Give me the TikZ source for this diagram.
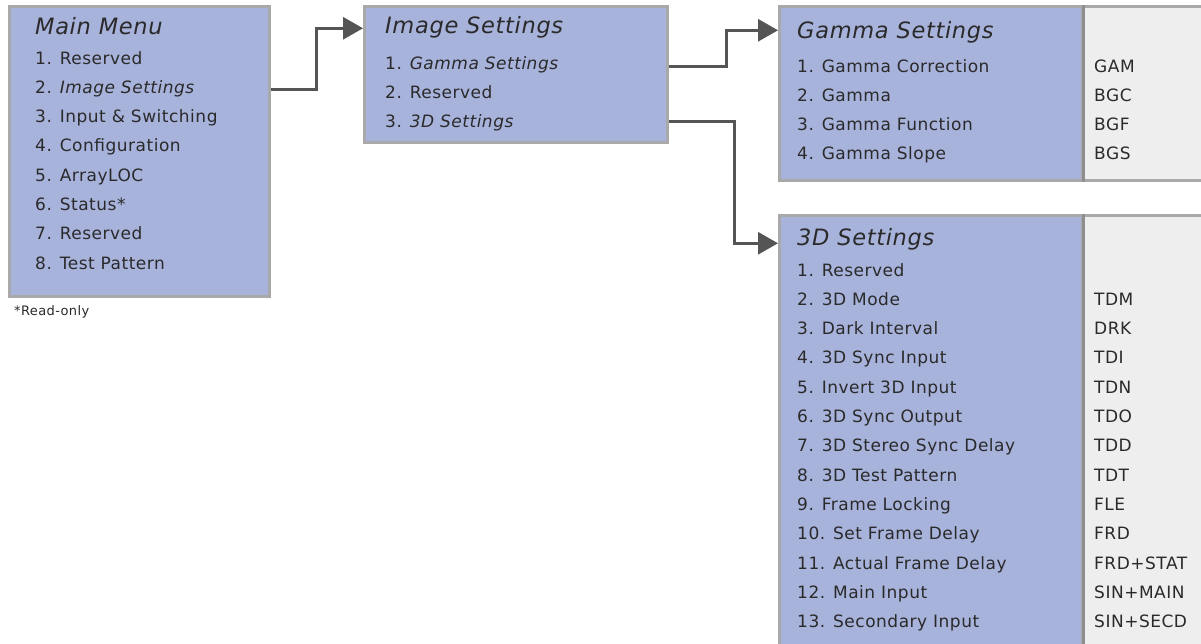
\documentclass[tikz,border=0pt]{standalone}
\usepackage{fontspec}
\setmainfont{DejaVu Sans}[LetterSpace=3]
\usetikzlibrary{arrows.meta}
\definecolor{menublue}{HTML}{A8B3DC}
\definecolor{menuborder}{HTML}{A9A9A9}
\definecolor{codegray}{HTML}{EEEEEE}
\definecolor{divgray}{HTML}{8E8E8E}
\definecolor{arrowgray}{HTML}{555555}
\definecolor{txt}{HTML}{2A2A2A}
\tikzset{
  menubox/.style={draw=menuborder, line width=2.5pt, fill=menublue, anchor=north west, inner sep=0pt},
  codebox/.style={draw=menuborder, line width=2.5pt, fill=codegray, anchor=north west, inner sep=0pt},
  item/.style={anchor=base west, inner sep=0pt, text=txt, font=\fontsize{17}{20}\selectfont},
  ttl/.style={anchor=base west, inner sep=0pt, text=txt, font=\fontsize{22.5}{26}\selectfont\itshape},
  code/.style={anchor=base west, inner sep=0pt, text=txt, font=\fontsize{17}{20}\selectfont},
  note/.style={anchor=base west, inner sep=0pt, text=txt, font=\fontsize{13}{15}\selectfont},
  divider/.style={draw=divgray, line width=3pt},
  conn/.style={draw=arrowgray, line width=3pt, -{Triangle[length=20pt,width=22pt]}}
}
\begin{document}
\begin{tikzpicture}[x=1pt,y=-1pt]
\clip (0,0) rectangle (1201,643);
\fill[white] (0,0) rectangle (1201,643);
% Main menu
\node[menubox, minimum width=260pt, minimum height=290pt] (main) at (8,5) {};
\node[ttl] (mmT) at (35,34.3) {Main Menu};
\node[item] (mm1) at (35,64) {1. Reserved};
\node[item] (mm2) at (35,93.3) {2. \textit{Image Settings}};
\node[item] (mm3) at (35,122.6) {3. Input \& Switching};
\node[item] (mm4) at (35,151.9) {4. Configuration};
\node[item] (mm5) at (35,181.2) {5. ArrayLOC};
\node[item] (mm6) at (35,210.5) {6. Status*};
\node[item] (mm7) at (35,239.8) {7. Reserved};
\node[item] (mm8) at (35,269.1) {8. Test Pattern};
\node[note] (ro) at (14,315) {*Read-only};
% Image settings
\node[menubox, minimum width=303pt, minimum height=136pt] (img) at (363,5) {};
\node[ttl] (imgT) at (385,33) {Image Settings};
\node[item] (img1) at (385,69) {1. \textit{Gamma Settings}};
\node[item] (img2) at (385,98.3) {2. Reserved};
\node[item] (img3) at (385,127.6) {3. \textit{3D Settings}};
% Gamma settings
\node[codebox, minimum width=140pt, minimum height=174pt] (gamC) at (1081,5) {};
\node[menubox, minimum width=303pt, minimum height=174pt] (gam) at (778,5) {};
\draw[divider] (gam.north east) -- (gam.south east);
\node[ttl] (gamT) at (797,38) {Gamma Settings};
\node[item] (gam1) at (797,72) {1. Gamma Correction};
\node[item] (gam2) at (797,101.3) {2. Gamma};
\node[item] (gam3) at (797,130.6) {3. Gamma Function};
\node[item] (gam4) at (797,159.9) {4. Gamma Slope};
\node[code] (gc1) at (1094,72) {GAM};
\node[code] (gc2) at (1094,101.3) {BGC};
\node[code] (gc3) at (1094,130.6) {BGF};
\node[code] (gc4) at (1094,159.9) {BGS};
% 3D settings
\node[codebox, minimum width=140pt, minimum height=450pt] (tdC) at (1081,214) {};
\node[menubox, minimum width=303pt, minimum height=450pt] (td) at (778,214) {};
\draw[divider] (td.north east) -- (td.south east);
\node[ttl] (tdT) at (797,245) {3D Settings};
\foreach \i/\t/\c in {1/1. Reserved/,2/2. 3D Mode/TDM,3/3. Dark Interval/DRK,4/4. 3D Sync Input/TDI,5/5. Invert 3D Input/TDN,6/6. 3D Sync Output/TDO,7/7. 3D Stereo Sync Delay/TDD,8/8. 3D Test Pattern/TDT,9/9. Frame Locking/FLE,10/10. Set Frame Delay/FRD,11/11. Actual Frame Delay/FRD+STAT,12/12. Main Input/SIN+MAIN,13/13. Secondary Input/SIN+SECD}{
  \node[item] (td\i) at (797,{276+(\i-1)*29.3}) {\t};
  \node[code] (tc\i) at (1094,{276+(\i-1)*29.3}) {\c};
}
% connectors
\draw[conn] ([yshift=1.5pt]main.east |- mm2.mid) -- ++(46,0) |- ([yshift=2pt]img.west |- imgT.mid);
\draw[conn] (img.east |- img1.mid) -- ++(58,0) |- ([yshift=5pt]gam.west |- gamT.mid);
\draw[conn] ([yshift=3pt]img.east |- img3.mid) -- ++(66,0) |- ([yshift=-1pt]td.west |- tdT.mid);
\end{tikzpicture}
\end{document}
